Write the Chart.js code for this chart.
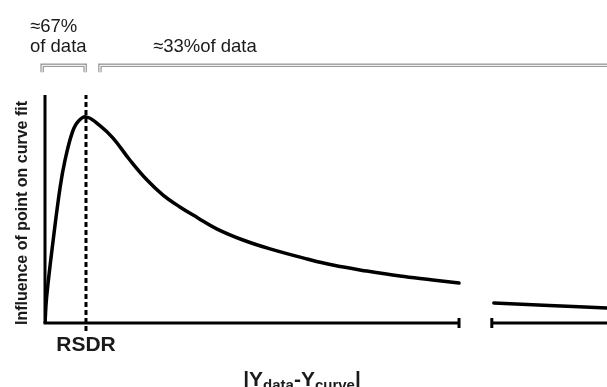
<!DOCTYPE html>
<html>
<head>
<meta charset="utf-8">
<script src="https://cdn.jsdelivr.net/npm/chart.js@4"></script>
<style>
  body { margin: 0; background: #fff; }
  canvas { display: block; }
</style>
</head>
<body>
<canvas id="influenceChart" width="607" height="387"></canvas>
<script>
// curve: x in units of RSDR, y in % of axis height
const curveX = [0, 0.04, 0.2, 0.37, 0.49, 0.66, 0.8, 1.0, 1.34, 1.66, 2.07, 2.49, 2.88, 3.29, 3.73, 4.2, 4.83, 5.49, 6.39, 7.02, 7.85, 8.66, 9.46, 10.1];
const curveY = [0, 11.4, 36.4, 59.6, 71.5, 83.3, 88.2, 90.4, 86.6, 81.1, 71.5, 62.7, 56.1, 50.9, 46.1, 41.2, 36.4, 32.5, 28.1, 25.4, 22.8, 20.6, 18.9, 17.5];
const farX = [10.95, 12.3, 13.75];
const farY = [8.8, 7.7, 6.6];

const rsdr = 1;
const axisBreak = [10.1, 10.9];
const smallBracket = [-0.07, 0.98];
const largeBracket = [1.34, 14.5];
const xMax = 13.71;
const yMax = 100;

// points, with a gap at the axis break
const points = curveX.map((x, i) => ({ x: x, y: curveY[i] }))
    .concat([{ x: 10.5, y: null }])
    .concat(farX.map((x, i) => ({ x: x, y: farY[i] })));

const FONT = '"Liberation Sans", Arial, sans-serif';

const decorations = {
    id: 'decorations',
    afterDatasetsDraw(chart) {
        const ctx = chart.ctx;
        const xs = chart.scales.x;
        const ys = chart.scales.y;
        const px = v => xs.getPixelForValue(v);
        const py = v => ys.getPixelForValue(v);
        ctx.save();

        // y axis
        ctx.strokeStyle = '#000';
        ctx.lineWidth = 3;
        ctx.beginPath();
        ctx.moveTo(px(0), py(0));
        ctx.lineTo(px(0), py(yMax));
        ctx.stroke();

        // broken x axis
        ctx.beginPath();
        ctx.moveTo(px(0) - 1.5, py(0));
        ctx.lineTo(px(axisBreak[0]), py(0));
        ctx.moveTo(px(axisBreak[1]), py(0));
        ctx.lineTo(px(xMax), py(0));
        ctx.stroke();
        ctx.beginPath();
        axisBreak.forEach(b => {
            ctx.moveTo(px(b), py(0) - 5);
            ctx.lineTo(px(b), py(0) + 5);
        });
        ctx.stroke();

        // RSDR dashed line
        ctx.setLineDash([5, 3]);
        ctx.beginPath();
        ctx.moveTo(px(rsdr), py(0) + 8);
        ctx.lineTo(px(rsdr), py(yMax));
        ctx.stroke();
        ctx.setLineDash([]);

        // brackets (double grey line)
        const top = py(113);
        const legs = py(110);
        [smallBracket, largeBracket].forEach(b => {
            const path = () => {
                ctx.beginPath();
                ctx.moveTo(px(b[0]), legs);
                ctx.lineTo(px(b[0]), top);
                ctx.lineTo(px(b[1]), top);
                ctx.lineTo(px(b[1]), legs);
            };
            ctx.strokeStyle = '#9a9a9a';
            ctx.lineWidth = 3.5;
            path();
            ctx.stroke();
            ctx.strokeStyle = '#fff';
            ctx.lineWidth = 1;
            path();
            ctx.stroke();
        });

        // labels
        ctx.fillStyle = '#1a1a1a';
        ctx.textBaseline = 'alphabetic';
        ctx.textAlign = 'left';
        ctx.font = '18.5px ' + FONT;
        ctx.fillText('\u224867%', 30, 32);
        ctx.fillText('of data', 30, 52);
        ctx.fillText('\u224833%of data', 153, 52);

        ctx.font = 'bold 21px ' + FONT;
        ctx.textAlign = 'center';
        ctx.fillText('RSDR', px(rsdr), py(0) + 28);

        // |Ydata-Ycurve|
        const parts = [
            ['|Y', 21, 0], ['data', 15, 4], ['-Y', 21, 0], ['curve', 15, 4], ['|', 21, 0]
        ];
        let total = 0;
        parts.forEach(p => {
            ctx.font = 'bold ' + p[1] + 'px ' + FONT;
            total += ctx.measureText(p[0]).width;
        });
        let cx = 302 - total / 2;
        ctx.textAlign = 'left';
        parts.forEach(p => {
            ctx.font = 'bold ' + p[1] + 'px ' + FONT;
            ctx.fillText(p[0], cx, 386 + p[2]);
            cx += ctx.measureText(p[0]).width;
        });

        // y title
        ctx.save();
        ctx.translate(27, 213);
        ctx.rotate(-Math.PI / 2);
        ctx.textAlign = 'center';
        ctx.font = 'bold 16px ' + FONT;
        ctx.fillText('Influence of point on curve fit', 0, 0);
        ctx.restore();

        ctx.restore();
    }
};

const influenceChart = new Chart(
    document.getElementById('influenceChart'),
    {
        type: 'line',
        data: {
            datasets: [{
                data: points,
                borderColor: '#000',
                borderWidth: 3.5,
                pointRadius: 0,
                tension: 0.4,
                borderCapStyle: 'round',
                borderJoinStyle: 'round',
                spanGaps: false,
                fill: false
            }]
        },
        options: {
            responsive: false,
            animation: false,
            layout: { padding: { left: 45, right: 0, top: 95, bottom: 64 } },
            plugins: { legend: { display: false }, tooltip: { enabled: false } },
            scales: {
                x: { type: 'linear', min: 0, max: xMax, display: false },
                y: { min: 0, max: yMax, display: false }
            }
        },
        plugins: [decorations]
    }
);
</script>
</body>
</html>
